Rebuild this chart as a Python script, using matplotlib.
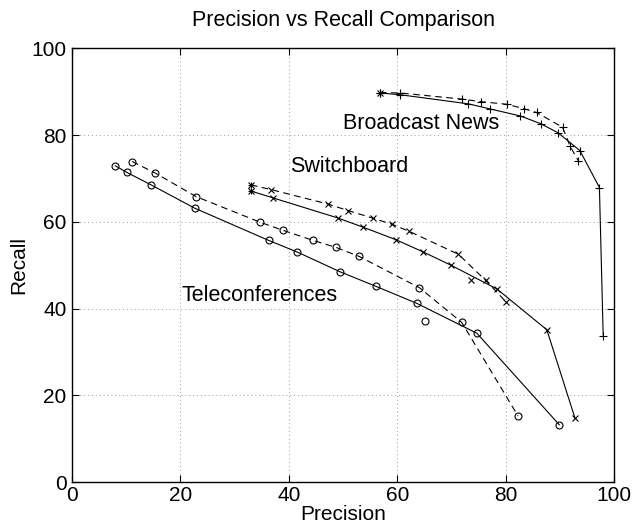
import matplotlib
matplotlib.use('Agg')
import matplotlib.pyplot as plt

# Broadcast News (+ markers)
bn_solid_p = [56.8, 60.5, 73.1, 77.2, 82.7, 86.5, 89.7, 93.7, 97.3, 98.0]
bn_solid_r = [89.7, 89.3, 87.2, 86.0, 84.4, 82.6, 80.5, 76.4, 67.9, 33.7]
bn_dash_p = [56.8, 60.5, 71.9, 75.4, 80.2, 83.3, 85.7, 90.5, 91.9, 93.4]
bn_dash_r = [89.8, 89.7, 88.3, 87.7, 87.1, 86.1, 85.2, 81.8, 77.4, 74.1]

# Switchboard (x markers)
sb_solid_p = [33.0, 37.1, 49.0, 53.6, 59.7, 64.7, 69.9, 78.4, 87.6, 92.8]
sb_solid_r = [67.1, 65.5, 60.9, 58.8, 55.9, 53.1, 50.0, 44.5, 35.1, 14.7]
sb_dash_p = [33.0, 36.8, 47.2, 50.9, 55.6, 59.1, 62.2, 71.3, 76.3, 80.1]
sb_dash_r = [68.5, 67.4, 64.1, 62.6, 60.8, 59.4, 57.8, 52.5, 46.5, 41.5]
sb_single_p = [73.6]
sb_single_r = [46.6]

# Teleconferences (o markers)
tc_solid_p = [8.0, 10.1, 14.6, 22.7, 36.3, 41.6, 49.4, 56.1, 63.6, 74.7, 89.9]
tc_solid_r = [72.9, 71.4, 68.5, 63.1, 55.7, 53.0, 48.5, 45.1, 41.2, 34.3, 13.2]
tc_dash_p = [11.1, 15.4, 22.9, 34.7, 39.0, 44.5, 48.7, 53.0, 64.1, 71.9, 82.3]
tc_dash_r = [73.9, 71.2, 65.8, 59.9, 58.0, 55.7, 54.1, 52.0, 44.8, 36.8, 15.2]
tc_single_p = [65.2]
tc_single_r = [37.2]

labels = ['Broadcast News', 'Switchboard', 'Teleconferences']
label_pos = [(50.0, 82.7), (40.2, 72.8), (20.2, 42.9)]
ticks = [0, 20, 40, 60, 80, 100]

plt.rcParams['font.family'] = ['Liberation Sans', 'DejaVu Sans']

fig = plt.figure(figsize=(6.35, 5.29), dpi=100)
ax = fig.add_axes([0.1134, 0.0888, 0.8536, 0.8199])

lw = 0.8
dash = (6, 4)


def draw_pair(sp, sr, dp, dr, marker, ms):
    ax.plot(sp, sr, color='black', linewidth=lw, marker=marker, markersize=ms,
            markerfacecolor='none', markeredgewidth=0.8)
    ax.plot(dp, dr, color='black', linewidth=lw, dashes=dash, marker=marker, markersize=ms,
            markerfacecolor='none', markeredgewidth=0.8)


draw_pair(bn_solid_p, bn_solid_r, bn_dash_p, bn_dash_r, '+', 6)
draw_pair(sb_solid_p, sb_solid_r, sb_dash_p, sb_dash_r, 'x', 4)
draw_pair(tc_solid_p, tc_solid_r, tc_dash_p, tc_dash_r, 'o', 5)

# first points look like stars
ax.plot([bn_solid_p[0]], [bn_solid_r[0]], linestyle='none', marker='x', markersize=4,
        color='black', markeredgewidth=0.8)
ax.plot([sb_solid_p[0], sb_dash_p[0]], [sb_solid_r[0], sb_dash_r[0]], linestyle='none',
        marker='+', markersize=5, color='black', markeredgewidth=0.8)

# stray points off the curves
ax.plot(sb_single_p, sb_single_r, linestyle='none', marker='x', markersize=4,
        color='black', markeredgewidth=0.8)
ax.plot(tc_single_p, tc_single_r, linestyle='none', marker='o', markersize=5,
        markerfacecolor='none', color='black', markeredgewidth=0.8)

for text, (x, y) in zip(labels, label_pos):
    ax.text(x, y, text, fontsize=15.5, ha='left', va='center')

ax.set_xlim(0, 100)
ax.set_ylim(0, 100)
ax.set_xticks(ticks)
ax.set_yticks(ticks)
ax.tick_params(direction='in', length=5, width=0.8, labelsize=15, top=True, right=True)
ax.tick_params(axis='x', pad=3)
ax.tick_params(axis='y', pad=4)
ax.grid(True, linestyle=(0, (1, 3)), color='#9a9a9a', linewidth=0.7)
for spine in ax.spines.values():
    spine.set_linewidth(1.0)

ax.set_title('Precision vs Recall Comparison', fontsize=15.5, pad=16)
ax.set_xlabel('Precision', fontsize=15, labelpad=0)
ax.set_ylabel('Recall', fontsize=15, labelpad=2)

plt.savefig('out.png', dpi=100)
plt.close()
